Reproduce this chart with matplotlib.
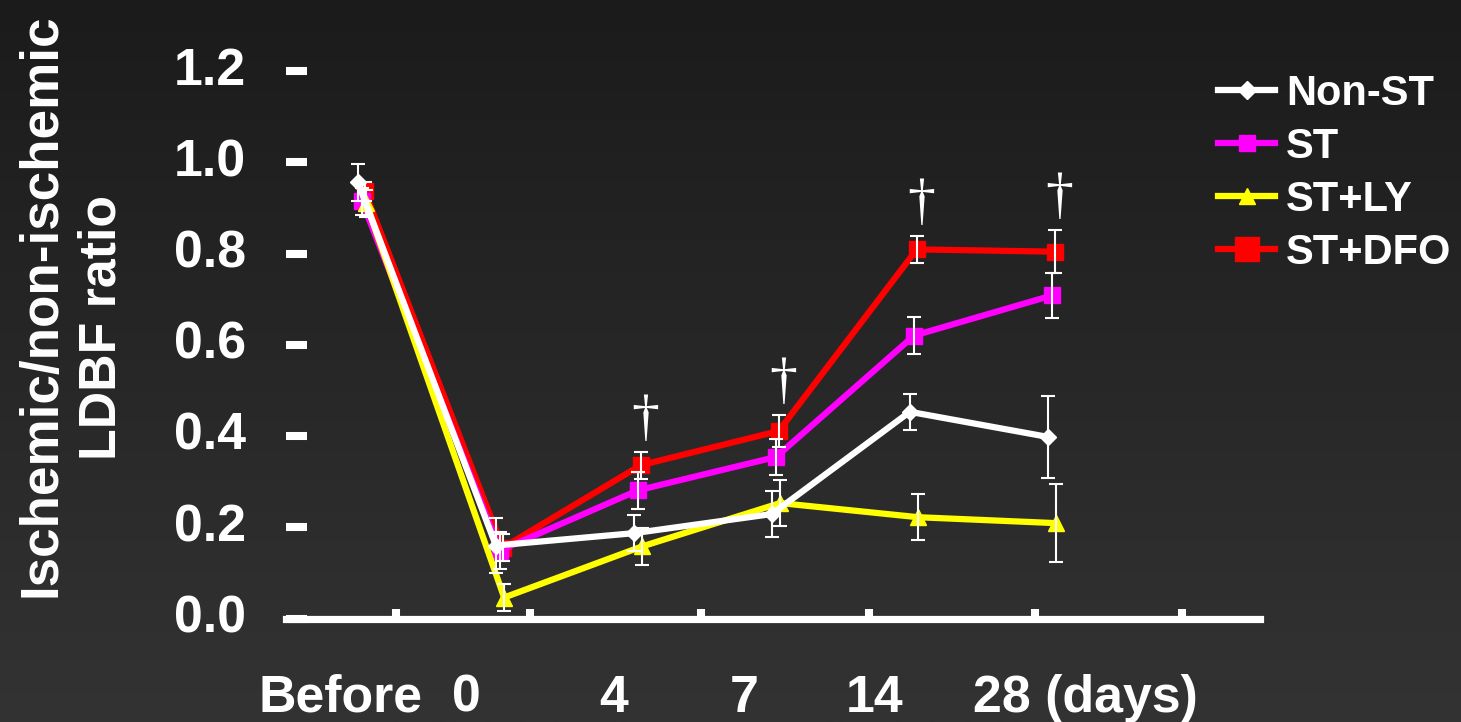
"""Laser Doppler blood flow recovery after hind-limb ischemia, four groups."""
import numpy as np
import matplotlib.pyplot as plt
from matplotlib.colors import LinearSegmentedColormap
from matplotlib.lines import Line2D
from matplotlib.transforms import ScaledTranslation

plt.rcParams["font.family"] = ["Liberation Sans", "DejaVu Sans"]
plt.rcParams["font.weight"] = "bold"

# --- data -----------------------------------------------------------------
time_labels = ["Before", "0", "4", "7", "14", "28 (days)"]

non_st = [0.956, 0.160, 0.187, 0.229, 0.453, 0.398]
non_st_err = [0.040, 0.060, 0.040, 0.050, 0.040, 0.090]

st = [0.914, 0.149, 0.281, 0.354, 0.620, 0.708]
st_err = [0.030, 0.040, 0.040, 0.040, 0.040, 0.050]

st_ly = [0.910, 0.046, 0.158, 0.253, 0.222, 0.209]
st_ly_err = [0.030, 0.030, 0.040, 0.050, 0.050, 0.085]

st_dfo = [0.936, 0.155, 0.336, 0.411, 0.809, 0.804]
st_dfo_err = [0.020, 0.030, 0.030, 0.035, 0.030, 0.047]

# time points marked with a dagger (ST+DFO vs ST+LY)
dagger_points = [2, 3, 4, 5]

y_ticks = [0.0, 0.2, 0.4, 0.6, 0.8, 1.0, 1.2]

# --- figure ---------------------------------------------------------------
W, H = 1461, 722
fig = plt.figure(figsize=(W / 100, H / 100), dpi=100)

bg = fig.add_axes([0, 0, 1, 1], zorder=-10)
cmap = LinearSegmentedColormap.from_list("bg", ["#1b1b1b", "#333333"])
bg.imshow(np.linspace(0, 1, 256).reshape(-1, 1), cmap=cmap, aspect="auto",
          extent=[0, 1, 0, 1])
bg.axis("off")

# axes box in pixels: x 286..1260, y(0.0)=618.5, y(1.2)=71
x0, x1, y0, y1 = 286, 1260, 618.5, 71
ax = fig.add_axes([x0 / W, (H - y0) / H, (x1 - x0) / W, (y0 - y1) / H])
ax.set_facecolor("none")

# one category = 138 px, first category centred at 362 px
unit = 138.0
ax.set_xlim((x0 - 362) / unit, (x1 - 362) / unit)
ax.set_ylim(0, 1.2)

idx = np.arange(len(time_labels))
series = [
    ("ST+DFO", st_dfo, st_dfo_err, "#ff0000", "s", 11, 0.02),
    ("ST", st, st_err, "#ff00ff", "s", 11.5, 0.0),
    ("ST+LY", st_ly, st_ly_err, "#ffff00", "^", 12, 0.03),
    ("Non-ST", non_st, non_st_err, "#ffffff", "D", 8, -0.03),
]
for name, vals, err, col, mk, ms, dx in series:
    ax.plot(idx + dx, vals, color=col, lw=4.5, marker=mk, ms=ms,
            mfc=col, mec=col, zorder=3, clip_on=False)
    ax.errorbar(idx + dx, vals, yerr=err, fmt="none", ecolor="white",
                elinewidth=1.5, capsize=5, capthick=1.5, zorder=4,
                clip_on=False)

for i in dagger_points:
    ax.text(i + 0.05, st_dfo[i] + st_dfo_err[i] + 0.07, "\u2020",
            color="white", fontsize=40, family=["Liberation Serif", "DejaVu Serif"],
            fontweight="normal", ha="center", va="center")

# spines and ticks
for side in ("top", "right", "left"):
    ax.spines[side].set_visible(False)
ax.spines["bottom"].set_color("white")
ax.spines["bottom"].set_linewidth(5.2)

ax.set_yticks(y_ticks)
ax.set_yticklabels([f"{v:.1f}" for v in y_ticks])
ax.tick_params(axis="y", direction="in", length=15, width=5.8, color="white",
               pad=29, labelsize=37.4, labelcolor="white")
# numbers sit a little above their tick dashes
lift = ScaledTranslation(0, 5 / 100, fig.dpi_scale_trans)
for lbl in ax.get_yticklabels():
    lbl.set_transform(lbl.get_transform() + lift)

tick_px = [396, 530, 701, 869, 1035, 1182]
ax.set_xticks([(p - 362) / unit for p in tick_px])
ax.set_xticklabels([])
ax.tick_params(axis="x", direction="in", length=7.5, width=5.8, color="white")

# category labels under the axis
label_px = [340, 466, 614, 744, 875, 1085]
for p, lab in zip(label_px, time_labels):
    fig.text(p / W, (H - 712) / H, lab, color="white", fontsize=37.4,
             ha="center", va="baseline")

# y axis title, two lines
fig.text(56 / W, (H - 305) / H, "Ischemic/non-ischemic", color="white",
         fontsize=38.2, rotation=90, rotation_mode="anchor",
         ha="center", va="baseline")
fig.text(115 / W, (H - 327) / H, "LDBF ratio", color="white",
         fontsize=37.4, rotation=90, rotation_mode="anchor",
         ha="center", va="baseline")

# legend
handles = []
for name in ["Non-ST", "ST", "ST+LY", "ST+DFO"]:
    _, _, _, col, mk, ms, _ = next(s for s in series if s[0] == name)
    lms = {"Non-ST": 9, "ST": 11, "ST+LY": 12, "ST+DFO": 17}[name]
    handles.append(Line2D([], [], color=col, lw=4.5, marker=mk, ms=lms,
                          mfc=col, mec=col, label=name))
fig.legend(handles=handles, loc="upper left",
           bbox_to_anchor=(1218 / W, (H - 74) / H),
           frameon=False, fontsize=30, labelcolor="white",
           handlelength=1.37, handletextpad=0.26, labelspacing=0.31,
           borderpad=0, borderaxespad=0)

fig.savefig("out.png", dpi=100)
plt.close(fig)
